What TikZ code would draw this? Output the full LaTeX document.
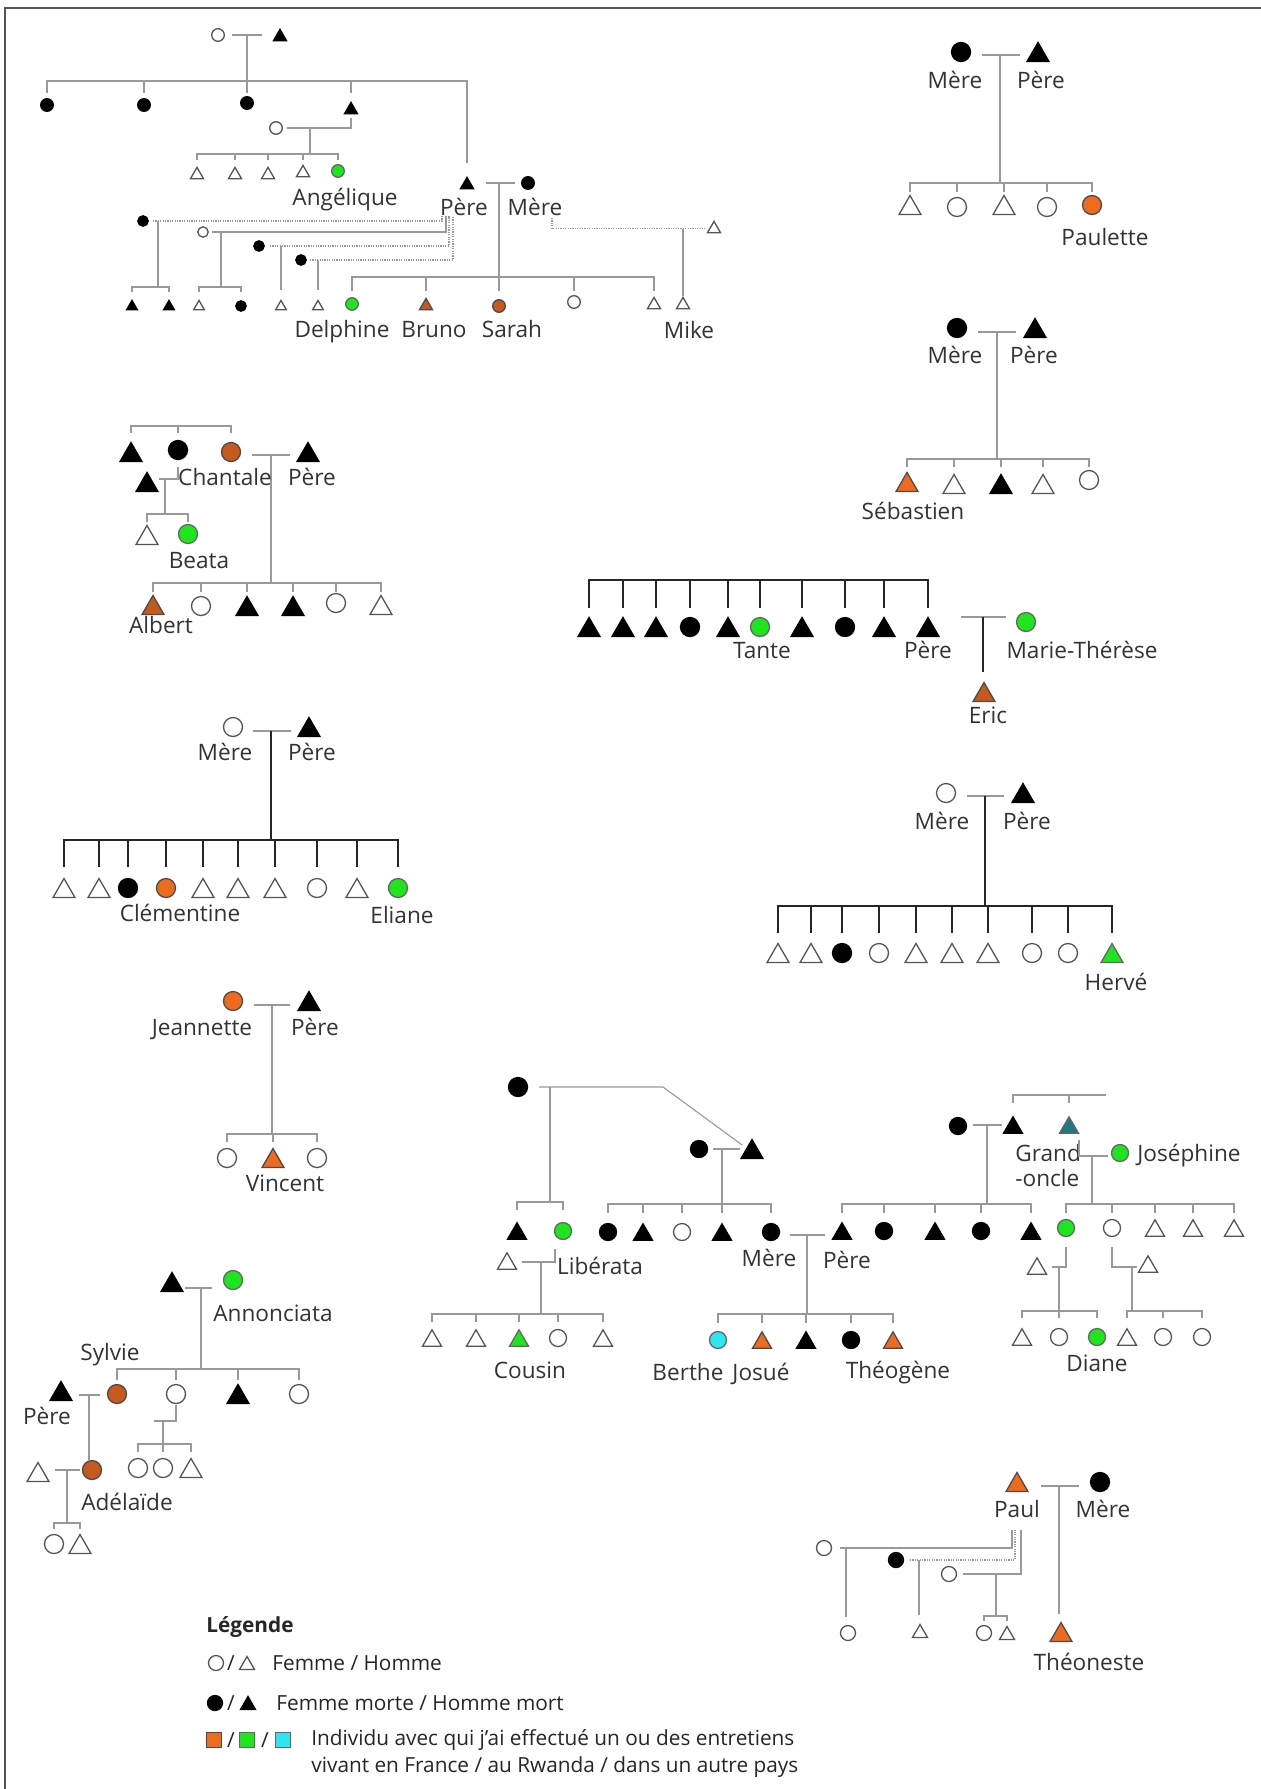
\documentclass[tikz,border=0pt]{standalone}
\usepackage{fontspec}
\setmainfont{Open Sans}
\usetikzlibrary{shapes.geometric,calc}
\definecolor{lnc}{HTML}{999999}
\definecolor{outl}{HTML}{555555}
\definecolor{txtc}{HTML}{333333}
\definecolor{orA}{HTML}{C65A1E}
\definecolor{orB}{HTML}{EE6A1E}
\definecolor{grn}{HTML}{1EE61E}
\definecolor{cyn}{HTML}{2EE6F0}
\definecolor{tealc}{HTML}{1F7A80}
\definecolor{framec}{HTML}{555555}
\newcommand\labfont{\fontsize{11.3}{13}\selectfont}
\newcommand\legendfont{\fontsize{10.4}{12}\selectfont}
\newcommand\famkids[5][ln]{%
  \draw[#1] (#2) -- (#2 |- 0,#3);
  \foreach \kid in {#5}{\draw[#1] (#2 |- 0,#3) -- (\kid |- 0,#3) -- (\kid |- 0,#4);}%
}
\begin{document}
\begin{tikzpicture}[x=0.5pt,y=-0.5pt,
  sym/.style={draw=outl, line width=0.65pt, fill=white, inner sep=0pt, outer sep=0pt},
  F/.style={sym, circle, minimum size=9.5pt},
  M/.style={sym, regular polygon, regular polygon sides=3, minimum size=12.7pt, yshift=-1.6pt},
  FM/.style={sym, circle, minimum size=8.5pt},
  MM/.style={sym, regular polygon, regular polygon sides=3, minimum size=11pt, yshift=-1.4pt},
  FX/.style={sym, circle, minimum size=7.5pt},
  MX/.style={sym, regular polygon, regular polygon sides=3, minimum size=8.7pt, yshift=-1.1pt},
  FS/.style={sym, circle, minimum size=6.3pt},
  MS/.style={sym, regular polygon, regular polygon sides=3, minimum size=7.5pt, yshift=-0.95pt},
  FT/.style={sym, circle, minimum size=5.2pt},
  MT/.style={sym, regular polygon, regular polygon sides=3, minimum size=6.2pt, yshift=-0.8pt},
  sq/.style={sym, rectangle, minimum size=7.5pt},
  dead/.style={fill=black, draw=black},
  frA/.style={fill=orA, draw=black!70},
  frB/.style={fill=orB, draw=black!70},
  rw/.style={fill=grn, draw=black!60},
  xx/.style={fill=cyn, draw=black!60},
  tl/.style={fill=tealc, draw=black!60},
  ln/.style={draw=lnc, line width=0.55pt},
  lnd/.style={draw=black!85, line width=0.85pt},
  dt/.style={draw=lnc, line width=0.55pt, dash pattern=on 0.6pt off 0.6pt},
  lab/.style={font=\labfont, text=txtc, inner sep=0pt, text height=8pt, text depth=0pt},
  leg/.style={font=\legendfont, text=black!85, inner sep=0pt, text height=7.6pt, text depth=0pt, anchor=west},
]
\useasboundingbox (0,0) rectangle (1261,1789);
\fill[white] (0,0) rectangle (1261,1789);
\draw[framec, line width=1pt] (5,1789) -- (5,8) -- (1261,8);

%% ================= Family 1 (top left)
\node[FS] (a0f) at (218,35) {};
\node[MS,dead] (a0m) at (280,35) {};
\coordinate (ja0) at (247,35);
\draw[ln, shorten <=7pt, shorten >=9pt] (a0f |- ja0) -- (a0m |- ja0);
\node[FS,dead] (c1) at (47,105) {};
\node[FS,dead] (c2) at (144,105) {};
\node[FS,dead] (c3) at (247,103) {};
\node[MS,dead] (c4) at (351,108) {};
\node[MS,dead] (p1) at (467,183) {};
\famkids{ja0}{81}{93}{c1,c2,c3,c4}
\draw[ln] (ja0 |- 0,81) -- (p1 |- 0,81) -- (p1 |- 0,163);
\node[FS] (s4) at (276,128) {};
\draw[ln, shorten <=5.5pt, shorten >=4pt] (s4.center) -- (c4 |- s4) -- (c4.center);
\coordinate (js4) at (310,128);
\node[MS] (a1) at (197,173) {};
\node[MS] (a2) at (235,173) {};
\node[MS] (a3) at (268,173) {};
\node[MS] (a4) at (303,171) {};
\node[FS,rw] (ang) at (338,171) {};
\famkids{js4}{154}{160}{a1,a2,a3,a4,ang}
\node[lab] (lang) at (345,197) {Angélique};

\node[FS,dead] (m1) at (528,183) {};
\node[lab] (lp1) at (464,207) {Père};
\node[lab] (lm1) at (535,207) {Mère};
\coordinate (jp1) at (499,183);
\draw[ln, shorten <=9.5pt, shorten >=6.5pt] (p1 |- jp1) -- (m1 |- jp1);
\node[FS,rw] (del) at (352,304) {};
\node[MS,frA] (bru) at (426,304) {};
\node[FS,frA] (sar) at (499,306) {};
\node[FS] (k4) at (574,302) {};
\node[MS] (k5) at (654,303) {};
\famkids{jp1}{277}{291}{del,bru,sar,k4,k5}
\node[lab] (ldel) at (342,329) {Delphine};
\node[lab] (lbru) at (434,329) {Bruno};
\node[lab] (lsar) at (512,329) {Sarah};
% Mere second partner
\node[MS] (mp2) at (714,227) {};
\coordinate (mv) at (552,218);
\draw[dt, shorten >=4.5pt] (mv) -- (mv |- mp2) -- (mp2.center);
\coordinate (jm1) at (683,227);
\node[MS] (mk) at (683,303) {};
\draw[ln, shorten >=0.6pt] (jm1 |- mp2) -- (mk.north);
\node[lab] (lmk) at (689,330) {Mike};
% Pere other partners
\coordinate (pv1) at (442,216);
\coordinate (pv2) at (446,216);
\coordinate (pv3) at (449,216);
\coordinate (pv4) at (453,216);
\node[FT,dead] (w1) at (143,221) {};
\node[FT] (w2) at (203,232) {};
\node[FT,dead] (w3) at (259,246) {};
\node[FT,dead] (w4) at (301,260) {};
\draw[dt, shorten <=5pt] (w1.center) -- (pv1 |- w1) -- (pv1);
\draw[ln, shorten <=4.5pt] (w2.center) -- (pv2 |- w2) -- (pv2);
\draw[dt, shorten <=5.5pt] (w3.center) -- (pv3 |- w3) -- (pv3);
\draw[dt, shorten <=4.5pt] (w4.center) -- (pv4 |- w4) -- (pv4);
\coordinate (jw1) at (158,221);
\coordinate (jw2) at (221,232);
\coordinate (jw3) at (281,246);
\coordinate (jw4) at (318,260);
\node[MT,dead] (q1) at (132,305) {};
\node[MT,dead] (q2) at (169,305) {};
\node[MT] (q3) at (199,305) {};
\node[FT,dead] (q4) at (241,306) {};
\node[MT] (q5) at (281,305) {};
\node[MT] (q6) at (318,305) {};
\famkids{jw1}{287}{292}{q1,q2}
\famkids{jw2}{287}{292}{q3,q4}
\draw[ln] (jw3) -- (q5 |- 0,290);
\draw[ln] (jw4) -- (q6 |- 0,290);

%% ================= Family 2 (Paulette)
\node[F,dead] (pm) at (961,52) {};
\node[M,dead] (pp) at (1038,52) {};
\coordinate (jpa) at (1000,55);
\draw[ln, shorten <=10.5pt, shorten >=9pt] (pm |- jpa) -- (pp |- jpa);
\node[lab] (lpm) at (955,80) {Mère};
\node[lab] (lpp) at (1041,80) {Père};
\node[M] (pa1) at (910,205) {};
\node[F] (pa2) at (957,207) {};
\node[M] (pa3) at (1004,205) {};
\node[F] (pa4) at (1047,207) {};
\node[F,frB] (pa5) at (1092,205) {};
\famkids{jpa}{183}{192}{pa1,pa2,pa3,pa4,pa5}
\node[lab] (lpau) at (1105,237) {Paulette};

%% ================= Family 3 (Sebastien)
\node[F,dead] (sm) at (957,328) {};
\node[M,dead] (sp) at (1035,328) {};
\coordinate (jse) at (997,332);
\draw[ln, shorten <=10.5pt, shorten >=9.5pt] (sm |- jse) -- (sp |- jse);
\node[lab] (lsm) at (955,355) {Mère};
\node[lab] (lsp) at (1034,355) {Père};
\node[M,frB] (sb1) at (907,482) {};
\node[M] (sb2) at (954,484) {};
\node[M,dead] (sb3) at (1001,484) {};
\node[M] (sb4) at (1043,484) {};
\node[F] (sb5) at (1089,480) {};
\famkids{jse}{459}{467}{sb1,sb2,sb3,sb4,sb5}
\node[lab] (lseb) at (913,511) {Sébastien};

%% ================= Family 4 (Chantale)
\coordinate (cb) at (178,426);
\node[M,dead] (u1) at (131,452) {};
\node[F,dead] (u2) at (178,450) {};
\node[F,frA] (cha) at (231,452) {};
\famkids{cb}{426}{433}{u1,u2,cha}
\node[M,dead] (cpe) at (308,452) {};
\coordinate (jcp) at (271,455);
\draw[ln, shorten <=10.5pt, shorten >=9pt] (cha |- jcp) -- (cpe |- jcp);
\node[M,frA] (al1) at (153,605) {};
\node[F] (al2) at (201,606) {};
\node[M,dead] (al3) at (247,606) {};
\node[M,dead] (al4) at (293,606) {};
\node[F] (al5) at (336,603) {};
\node[M] (al6) at (381,605) {};
\famkids{jcp}{583}{592}{al1,al2,al3,al4,al5,al6}
\node[M,dead] (uh) at (147,482) {};
\coordinate (uhe) at (159,479);
\draw[ln, shorten <=8.5pt] (u2.center) -- (u2 |- uhe) -- (uhe);
\coordinate (juh) at (165,479);
\node[M] (be1) at (147,535) {};
\node[F,rw] (bea) at (188,534) {};
\famkids{juh}{514}{522}{be1,bea}
\node[lab] (lcha) at (225,477) {Chantale};
\node[lab] (lcpe) at (312,477) {Père};
\node[lab] (lbea) at (199,560) {Beata};
\node[lab] (lalb) at (161,625) {Albert};

%% ================= Family 5 (Tante / Eric)
\coordinate (tb) at (755,580);
\node[M,dead] (t1) at (589,627) {};
\node[M,dead] (t2) at (623,627) {};
\node[M,dead] (t3) at (656,627) {};
\node[F,dead] (t4) at (690,627) {};
\node[M,dead] (t5) at (728,627) {};
\node[F,rw] (t6) at (760,627) {};
\node[M,dead] (t7) at (802,627) {};
\node[F,dead] (t8) at (845,627) {};
\node[M,dead] (t9) at (884,627) {};
\node[M,dead] (t10) at (928,627) {};
\famkids[lnd]{tb}{580}{608}{t1,t2,t3,t4,t5,t6,t7,t8,t9,t10}
\node[F,rw] (mt) at (1026,622) {};
\coordinate (jmt) at (983,617);
\draw[ln, shorten <=16.5pt, shorten >=10pt] (t10 |- jmt) -- (mt |- jmt);
\node[M,frA] (eric) at (984,692) {};
\draw[lnd, shorten >=5.5pt] (jmt) -- (jmt |- eric.north);
\node[lab] (ltan) at (762,650) {Tante};
\node[lab] (lt10) at (928,650) {Père};
\node[lab] (lmt) at (1082,650) {Marie-Thérèse};
\node[lab] (leri) at (988,715) {Eric};

%% ================= Family 6 (Clementine)
\node[F] (cm) at (233,727) {};
\node[M,dead] (cpa) at (309,727) {};
\coordinate (jcm) at (271,731);
\draw[ln, shorten <=10pt, shorten >=9pt] (cm |- jcm) -- (cpa |- jcm);
\node[M] (cl1) at (64,888) {};
\node[M] (cl2) at (99,888) {};
\node[F,dead] (cl3) at (128,888) {};
\node[F,frB] (cl4) at (166,888) {};
\node[M] (cl5) at (203,888) {};
\node[M] (cl6) at (238,888) {};
\node[M] (cl7) at (275,888) {};
\node[F] (cl8) at (317,888) {};
\node[M] (cl9) at (357,888) {};
\node[F,rw] (cl10) at (398,888) {};
\famkids[lnd]{jcm}{840}{867}{cl1,cl2,cl3,cl4,cl5,cl6,cl7,cl8,cl9,cl10}
\node[lab] (lcm) at (225,752) {Mère};
\node[lab] (lcpa) at (312,752) {Père};
\node[lab] (lcle) at (180,913) {Clémentine};
\node[lab] (leli) at (402,915) {Eliane};

%% ================= Family 7 (Herve)
\node[F] (hm) at (946,793) {};
\node[M,dead] (hpa) at (1023,793) {};
\coordinate (jhm) at (985,796);
\draw[ln, shorten <=10.5pt, shorten >=9.5pt] (hm |- jhm) -- (hpa |- jhm);
\node[M] (hv1) at (778,953) {};
\node[M] (hv2) at (811,953) {};
\node[F,dead] (hv3) at (842,953) {};
\node[F] (hv4) at (879,953) {};
\node[M] (hv5) at (916,953) {};
\node[M] (hv6) at (952,953) {};
\node[M] (hv7) at (988,953) {};
\node[F] (hv8) at (1032,953) {};
\node[F] (hv9) at (1068,953) {};
\node[M,rw] (hv10) at (1112,953) {};
\famkids[lnd]{jhm}{906}{933}{hv1,hv2,hv3,hv4,hv5,hv6,hv7,hv8,hv9,hv10}
\node[lab] (lhm) at (942,821) {Mère};
\node[lab] (lhpa) at (1027,821) {Père};
\node[lab] (lher) at (1116,982) {Hervé};

%% ================= Family 8 (Jeannette)
\node[F,frB] (jf) at (233,1001) {};
\node[M,dead] (jpe) at (309,1001) {};
\coordinate (jjf) at (272,1005);
\draw[ln, shorten <=10.5pt, shorten >=9.5pt] (jf |- jjf) -- (jpe |- jjf);
\node[F] (v1) at (227,1158) {};
\node[M,frB] (vin) at (273,1158) {};
\node[F] (v3) at (317,1158) {};
\famkids{jjf}{1134}{1142}{v1,vin,v3}
\node[lab] (ljf) at (202,1027) {Jeannette};
\node[lab] (ljpe) at (315,1027) {Père};
\node[lab] (lvin) at (285,1183) {Vincent};

%% ================= Family 9 (Annonciata)
\node[M,dead] (ah) at (172,1282) {};
\node[F,rw] (an) at (233,1280) {};
\coordinate (jan) at (201,1288);
\draw[ln, shorten <=6.5pt, shorten >=10.5pt] (ah |- jan) -- (an |- jan);
\node[F,frA] (syl) at (117,1394) {};
\node[F] (so2) at (176,1394) {};
\node[M,dead] (so3) at (238,1394) {};
\node[F] (so4) at (299,1394) {};
\famkids{jan}{1369}{1380}{syl,so2,so3,so4}
\node[M,dead] (sph) at (61,1391) {};
\coordinate (jsy) at (89,1395);
\draw[ln, shorten <=9pt, shorten >=8.5pt] (sph |- jsy) -- (syl |- jsy);
\node[F,frA] (ade) at (92,1470) {};
\draw[ln] (jsy) -- (jsy |- ade.north);
\node[M] (ad2) at (38,1472) {};
\coordinate (jad) at (67,1470);
\draw[ln, shorten <=8.5pt, shorten >=6pt] (ad2 |- jad) -- (ade |- jad);
\node[F] (g1) at (54,1544) {};
\node[M] (g2) at (80,1544) {};
\famkids{jad}{1523}{1529}{g1,g2}
\coordinate (s2e) at (154,1421);
\draw[ln, shorten <=5.5pt] (so2.center) -- (so2 |- s2e) -- (s2e);
\coordinate (js2) at (163,1421);
\node[F] (n1) at (138,1468) {};
\node[F] (n2) at (163,1468) {};
\node[M] (n3) at (191,1468) {};
\famkids{js2}{1444}{1452}{n1,n2,n3}
\node[lab] (lann) at (273,1313) {Annonciata};
\node[lab] (lsyl) at (110,1352) {Sylvie};
\node[lab] (lsph) at (47,1416) {Père};
\node[lab] (lade) at (127,1502) {Adélaïde};

%% ================= Family 10 (Liberata / Berthe / Josephine)
\node[F,dead] (gm) at (518,1087) {};
\coordinate (gmk) at (663,1087);
\node[FM,dead] (g2m) at (699,1149) {};
\node[M,dead] (g2p) at (752,1149) {};
\draw[ln, shorten <=10.5pt, shorten >=6pt] (gm.center) -- (gmk) -- (g2p.center);
\coordinate (jgm) at (550,1087);
\node[MM,dead] (lt) at (517,1231) {};
\node[FM,rw] (lib) at (563,1231) {};
\famkids{jgm}{1202}{1210}{lt,lib}
\node[MM] (lh) at (507,1261) {};
\coordinate (lb1) at (555,1249);
\coordinate (lbe) at (522,1262);
\draw[ln] (lb1) -- (lb1 |- lbe) -- (lbe);
\coordinate (jlb) at (541,1262);
\node[MM] (cz1) at (432,1338) {};
\node[MM] (cz2) at (476,1338) {};
\node[MM,rw] (cz3) at (519,1338) {};
\node[FM] (cz4) at (558,1338) {};
\node[MM] (cz5) at (603,1338) {};
\famkids{jlb}{1314}{1322}{cz1,cz2,cz3,cz4,cz5}
\node[lab] (llib) at (600,1266) {Libérata};
\node[lab] (lcou) at (530,1370) {Cousin};
\coordinate (jg2) at (722,1149);
\draw[ln, shorten <=7pt, shorten >=6pt] (g2m |- jg2) -- (g2p |- jg2);
\node[FM,dead] (mb1) at (608,1232) {};
\node[MM,dead] (mb2) at (643,1232) {};
\node[FM] (mb3) at (682,1232) {};
\node[MM,dead] (mb4) at (722,1232) {};
\node[FM,dead] (mere) at (771,1232) {};
\famkids{jg2}{1204}{1213}{mb1,mb2,mb3,mb4,mere}
\node[MM,dead] (per2) at (842,1231) {};
\coordinate (jmp) at (807,1235);
\draw[ln, shorten <=9.5pt, shorten >=8.5pt] (mere |- jmp) -- (per2 |- jmp);
\node[FM,xx] (ber) at (718,1340) {};
\node[MM,frB] (jos) at (762,1340) {};
\node[MM,dead] (bk3) at (806,1340) {};
\node[FM,dead] (bk4) at (851,1340) {};
\node[MM,frB] (thg) at (893,1340) {};
\famkids{jmp}{1314}{1323}{ber,jos,bk3,bk4,thg}
\node[lab] (lmere) at (769,1258) {Mère};
\node[lab] (lper2) at (847,1260) {Père};
\node[lab] (lber) at (688,1372) {Berthe};
\node[lab] (ljos) at (761,1372) {Josué};
\node[lab] (lthg) at (898,1370) {Théogène};
% right group
\node[FM,dead] (gg1) at (958,1126) {};
\node[MM,dead] (gg2) at (1013,1125) {};
\node[MM,tl] (go) at (1069,1125) {};
\coordinate (gb) at (1106,1095);
\famkids{gb}{1095}{1103}{gg2,go}
\coordinate (jgg) at (987,1125);
\draw[ln, shorten <=7.5pt, shorten >=5.5pt] (gg1 |- jgg) -- (gg2 |- jgg);
\node[FM,dead] (r2) at (884,1231) {};
\node[MM,dead] (r3) at (935,1231) {};
\node[FM,dead] (r4) at (981,1231) {};
\node[MM,dead] (r5) at (1031,1231) {};
\famkids{jgg}{1204}{1213}{per2,r2,r3,r4,r5}
\node[lab, anchor=west] (lgo1) at (1015,1153) {Grand};
\node[lab, anchor=west] (lgo2) at (1015,1178) {-oncle};
\node[FM,rw] (jo) at (1120,1153) {};
\node[lab, anchor=west] (ljo) at (1137,1153) {Joséphine};
\coordinate (go1) at (1079,1140);
\coordinate (goe) at (1108,1156);
\draw[ln] (go1) -- (go1 |- goe) -- (goe);
\coordinate (jgo) at (1092,1156);
\node[FM,rw] (d1) at (1066,1228) {};
\node[FM] (d2) at (1112,1228) {};
\node[MM] (d3) at (1155,1228) {};
\node[MM] (d4) at (1193,1228) {};
\node[MM] (d5) at (1234,1228) {};
\famkids{jgo}{1204}{1213}{d1,d2,d3,d4,d5}
\node[MM] (d1h) at (1037,1266) {};
\coordinate (d1e) at (1052,1267);
\draw[ln, shorten <=9.5pt] (d1.center) -- (d1 |- d1e) -- (d1e);
\coordinate (jd1) at (1059,1267);
\node[MM] (e1) at (1022,1337) {};
\node[FM] (e2) at (1059,1337) {};
\node[FM,rw] (dia) at (1097,1337) {};
\famkids{jd1}{1311}{1318}{e1,e2,dia}
\node[MM] (d2h) at (1148,1264) {};
\coordinate (d2e) at (1137,1267);
\draw[ln, shorten <=9.5pt] (d2.center) -- (d2 |- d2e) -- (d2e);
\coordinate (jd2) at (1132,1267);
\node[MM] (f1) at (1127,1337) {};
\node[FM] (f2) at (1163,1337) {};
\node[FM] (f3) at (1202,1337) {};
\famkids{jd2}{1311}{1318}{f1,f2,f3}
\node[lab] (ldia) at (1097,1363) {Diane};

%% ================= Family 11 (Paul)
\node[M,frB] (paul) at (1017,1482) {};
\node[F,dead] (pme) at (1100,1482) {};
\coordinate (jpl) at (1059,1486);
\draw[ln, shorten <=12pt, shorten >=10.5pt] (paul |- jpl) -- (pme |- jpl);
\node[M,frB] (theo) at (1061,1632) {};
\draw[ln, shorten >=4.5pt] (jpl) -- (jpl |- theo.north);
\node[lab] (lpaul) at (1017,1509) {Paul};
\node[lab] (lpme) at (1103,1509) {Mère};
\node[lab] (ltheo) at (1089,1662) {Théoneste};
\coordinate (pl1) at (1012,1530);
\coordinate (pl2) at (1015,1530);
\coordinate (pl3) at (1021,1530);
\node[FX] (x1) at (824,1548) {};
\node[FX,dead] (x2) at (896,1560) {};
\node[FX] (x3) at (949,1574) {};
\draw[ln, shorten <=8pt] (x1.center) -- (pl1 |- x1) -- (pl1);
\draw[dt, shorten <=7pt] (x2.center) -- (pl2 |- x2) -- (pl2);
\draw[ln, shorten <=7pt] (x3.center) -- (pl3 |- x3) -- (pl3);
\coordinate (jx1) at (846,1548);
\coordinate (jx2) at (919,1560);
\coordinate (jx3) at (996,1574);
\node[FX] (y1) at (848,1633) {};
\node[MX] (y2) at (920,1631) {};
\node[FX] (y3) at (984,1633) {};
\node[MX] (y4) at (1007,1633) {};
\draw[ln] (jx1) -- (jx1 |- 0,1617);
\draw[ln] (jx2) -- (jx2 |- 0,1615);
\famkids{jx3}{1616}{1621}{y3,y4}

%% ================= Legend
\node[leg, font=\legendfont\bfseries] (lgt) at (206,1625) {Légende};
\node[FX] (lg1) at (216,1663) {};
\node[leg, anchor=center] (lgs1) at (231,1663) {/};
\node[MX] (lg2) at (247,1663) {};
\node[leg] (lgx1) at (272,1663) {Femme / Homme};
\node[FX,dead] (lg3) at (215,1703) {};
\node[leg, anchor=center] (lgs2) at (231,1703) {/};
\node[MX,dead] (lg4) at (248,1703) {};
\node[leg] (lgx2) at (276,1703) {Femme morte / Homme mort};
\node[sq,frB] (lg5) at (214,1740) {};
\node[leg, anchor=center] (lgs3) at (231,1740) {/};
\node[sq,rw] (lg6) at (247,1740) {};
\node[leg, anchor=center] (lgs4) at (265,1740) {/};
\node[sq,xx] (lg7) at (283,1740) {};
\node[leg] (lgx3) at (311,1738) {Individu avec qui j'ai effectué un ou des entretiens};
\node[leg] (lgx4) at (311,1765) {vivant en France / au Rwanda / dans un autre pays};
\end{tikzpicture}
\end{document}
